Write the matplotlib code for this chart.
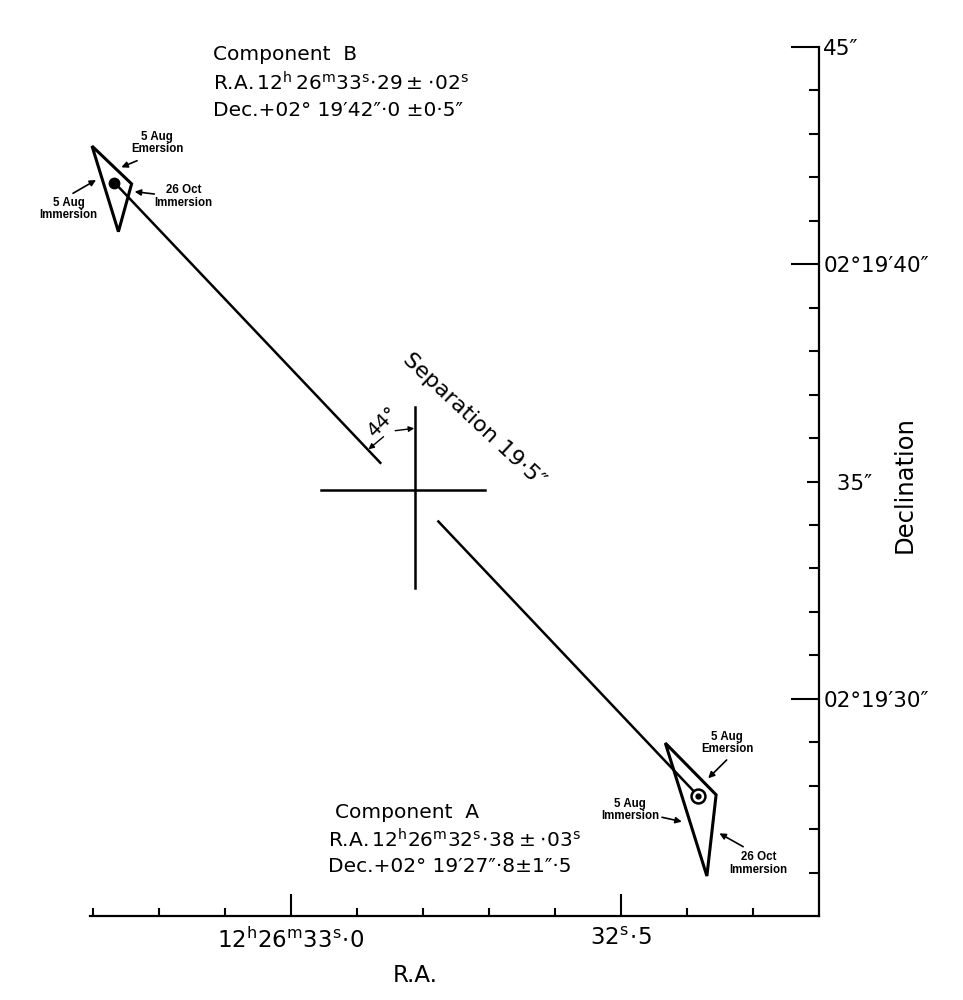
import matplotlib

matplotlib.use("Agg")
import matplotlib.pyplot as plt

# x: R.A. seconds after 12h26m, y: Dec arcsec after +02°19'
RA_MAJOR = [33.0, 32.5]
RA_MAJOR_LABELS = [r"$12^{\rm h}26^{\rm m}33^{\rm s}\!\cdot\!0$", r"$32^{\rm s}\!\cdot\!5$"]
RA_MINOR = [33.3, 33.2, 33.1, 32.9, 32.8, 32.7, 32.6, 32.4, 32.3]
DEC_MAJOR = [30, 35, 40, 45]
DEC_MAJOR_LABELS = ["02°19′30″", "  35″", "02°19′40″", "45″"]
DEC_MINOR = [26, 27, 28, 29, 31, 32, 33, 34, 36, 37, 38, 39, 41, 42, 43, 44]

# occultation position triangles and adopted positions
B_TRI_RA = [33.302, 33.242, 33.262]
B_TRI_DEC = [42.72, 41.85, 40.75]
B_POS_RA, B_POS_DEC = 33.268, 41.88
A_TRI_RA = [32.433, 32.356, 32.370]
A_TRI_DEC = [28.98, 27.79, 25.92]
A_POS_RA, A_POS_DEC = 32.383, 27.76

# separation line, broken around the centre cross
SEP_B_RA = [B_POS_RA, 32.865]
SEP_B_DEC = [B_POS_DEC, 35.43]
SEP_A_RA = [32.777, A_POS_RA]
SEP_A_DEC = [34.08, A_POS_DEC]
CROSS_H_RA = [32.955, 32.706]
CROSS_H_DEC = [34.80, 34.80]
CROSS_V_RA = [32.812, 32.812]
CROSS_V_DEC = [36.72, 32.55]

# (label, label centre, arrow tail, arrow head)
NOTES = [
    ("5 Aug\nEmersion", (33.2035, 42.79), (33.2338, 42.383), (33.2576, 42.231)),
    ("26 Oct\nImmersion", (33.1636, 41.555), (33.2076, 41.617), (33.2374, 41.670)),
    ("5 Aug\nImmersion", (33.3374, 41.272), (33.3308, 41.633), (33.2959, 41.939)),
    ("5 Aug\nEmersion", (32.339, 28.982), (32.340, 28.591), (32.368, 28.170)),
    ("5 Aug\nImmersion", (32.486, 27.440), (32.438, 27.272), (32.408, 27.171)),
    ("26 Oct\nImmersion", (32.292, 26.213), (32.315, 26.595), (32.351, 26.903)),
]

COMP_B_LINES = [
    "Component  B",
    r"R.A.$\,12^{\rm h}\,26^{\rm m}33^{\rm s}\!\cdot\!29\pm\!\cdot\!02^{\rm s}$",
    "Dec.+02° 19′42″·0 ±0·5″",
]
COMP_A_LINES = [
    "Component  A",
    r"R.A.$\,12^{\rm h}26^{\rm m}32^{\rm s}\!\cdot\!38\pm\!\cdot\!03^{\rm s}$",
    "Dec.+02° 19′27″·8±1″·5",
]

plt.rcParams["mathtext.fontset"] = "dejavusans"

fig = plt.figure(figsize=(9.63, 10), dpi=100)
ax = fig.add_axes([0.0935, 0.084, 0.757, 0.869])
ax.set_xlim(33.305, 32.2)
ax.set_ylim(25, 45)
for side in ("top", "left"):
    ax.spines[side].set_visible(False)
for side in ("bottom", "right"):
    ax.spines[side].set_linewidth(1.6)

ax.set_xticks(RA_MAJOR)
ax.set_xticklabels(RA_MAJOR_LABELS)
ax.set_xticks(RA_MINOR, minor=True)
ax.set_yticks(DEC_MAJOR)
ax.set_yticklabels(DEC_MAJOR_LABELS)
ax.set_yticks(DEC_MINOR, minor=True)
ax.tick_params(axis="x", which="major", direction="in", length=16, width=1.5, pad=8, labelsize=16.5)
ax.tick_params(axis="x", which="minor", direction="in", length=6, width=1.5)
ax.tick_params(axis="y", which="both", left=False, right=True, labelleft=False, labelright=True)
ax.tick_params(axis="y", which="major", direction="in", length=20, width=1.5, pad=3, labelsize=15.5)
ax.tick_params(axis="y", which="minor", direction="in", length=7, width=1.5)
# the 35" tick is drawn short in the original
ax.yaxis.get_major_ticks(len(DEC_MAJOR))[1].tick2line.set_markersize(9)

ax.fill(B_TRI_RA, B_TRI_DEC, fill=False, lw=2.2, color="black", joinstyle="miter")
ax.fill(A_TRI_RA, A_TRI_DEC, fill=False, lw=2.2, color="black", joinstyle="miter")
ax.plot(SEP_B_RA, SEP_B_DEC, color="black", lw=1.8)
ax.plot(SEP_A_RA, SEP_A_DEC, color="black", lw=1.8)
ax.plot(CROSS_H_RA, CROSS_H_DEC, color="black", lw=1.8)
ax.plot(CROSS_V_RA, CROSS_V_DEC, color="black", lw=1.8)
ax.plot(B_POS_RA, B_POS_DEC, "o", color="black", ms=7.5)
ax.plot(A_POS_RA, A_POS_DEC, "o", mfc="white", mec="black", mew=1.8, ms=10)
ax.plot(A_POS_RA, A_POS_DEC, "o", color="black", ms=3.5)

for label, text_xy, tail, head in NOTES:
    ax.text(*text_xy, label, ha="center", va="center", fontsize=8.3, fontweight="bold",
            family="Liberation Sans", linespacing=1.05, clip_on=False)
    ax.annotate("", xy=head, xytext=tail,
                arrowprops=dict(arrowstyle="-|>", lw=1.2, color="black", mutation_scale=9,
                                shrinkA=0, shrinkB=0))

# position angle marks
ax.text(32.7227, 36.415, "Separation 19·5″", rotation=-43, ha="center", va="center", fontsize=16)
ax.text(32.8626, 36.376, "44°", rotation=45, ha="center", va="center", fontsize=14)
ax.annotate("", xy=(32.8136, 36.224), xytext=(32.8424, 36.169),
            arrowprops=dict(arrowstyle="-|>", lw=1.0, color="black", mutation_scale=8,
                            shrinkA=0, shrinkB=0))
ax.annotate("", xy=(32.8829, 35.741), xytext=(32.8601, 36.031),
            arrowprops=dict(arrowstyle="-|>", lw=1.0, color="black", mutation_scale=8,
                            shrinkA=0, shrinkB=0))

for i, line in enumerate(COMP_B_LINES):
    ax.text(33.118, 44.82 - 0.64 * i, line, ha="left", va="center", fontsize=14.5, clip_on=False)
for i, line in enumerate(COMP_A_LINES):
    x0 = 32.933 if i == 0 else 32.944
    ax.text(x0, 27.39 - 0.63 * i, line, ha="left", va="center", fontsize=14.5)

fig.text(905 / 963, 1 - 485 / 1000, "Declination", rotation=90, ha="center", va="center", fontsize=17.5)
fig.text(415 / 963, 1 - 975 / 1000, "R.A.", ha="center", va="center", fontsize=16.5)

fig.savefig("out.png", dpi=100, facecolor="white")
